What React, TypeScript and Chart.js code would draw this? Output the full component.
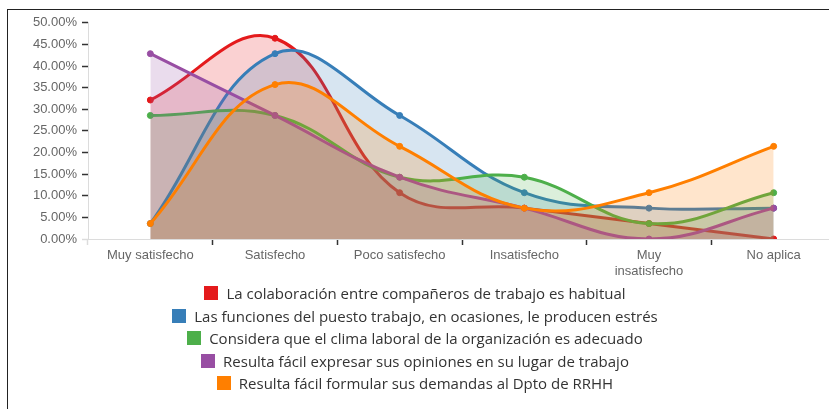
import React, { useEffect, useRef } from "react";
import { Chart, registerables } from "chart.js";

Chart.register(...registerables);

const categories: (string | string[])[] = [
  "Muy satisfecho",
  "Satisfecho",
  "Poco satisfecho",
  "Insatisfecho",
  ["Muy", "insatisfecho"],
  "No aplica",
];

const seriesNames = [
  "La colaboración entre compañeros de trabajo es habitual",
  "Las funciones del puesto trabajo, en ocasiones, le producen estrés",
  "Considera que el clima laboral de la organización es adecuado",
  "Resulta fácil expresar sus opiniones en su lugar de trabajo",
  "Resulta fácil formular sus demandas al Dpto de RRHH",
];

const colaboracion = [32.14, 46.43, 10.71, 7.14, 3.57, 0];
const funciones = [3.57, 42.86, 28.57, 10.71, 7.14, 7.14];
const clima = [28.57, 28.57, 14.29, 14.29, 3.57, 10.71];
const opiniones = [42.86, 28.57, 14.29, 7.14, 0, 7.14];
const demandas = [3.57, 35.71, 21.43, 7.14, 10.71, 21.43];

const seriesValues = [colaboracion, funciones, clima, opiniones, demandas];
const seriesColors = ["#e41a1c", "#377eb8", "#4daf4a", "#984ea3", "#ff7f00"];

const yMin = 0;
const yMax = 50;
const yStep = 5;

function hexToRgba(hex: string, a: number) {
  const n = parseInt(hex.slice(1), 16);
  return `rgba(${(n >> 16) & 255},${(n >> 8) & 255},${n & 255},${a})`;
}

const FONT = "'Liberation Sans', Arial, sans-serif";
const LEGEND_FONT = "'Open Sans', sans-serif";

export default function App() {
  const ref = useRef<HTMLCanvasElement | null>(null);

  useEffect(() => {
    if (!ref.current) return;
    const chart = new Chart(ref.current, {
      type: "line",
      data: {
        labels: categories as any,
        datasets: seriesValues.map((vals, i) => ({
          label: seriesNames[i],
          data: vals,
          order: seriesValues.length - 1 - i,
          borderColor: seriesColors[i],
          backgroundColor: hexToRgba(seriesColors[i], 0.2),
          pointBackgroundColor: seriesColors[i],
          pointBorderColor: seriesColors[i],
          pointRadius: 3,
          pointBorderWidth: 1,
          borderWidth: 3,
          tension: 0.4,
          fill: "origin",
        })),
      },
      options: {
        responsive: false,
        animation: false,
        devicePixelRatio: 1,
        layout: { padding: { left: 0, right: 0, top: 9, bottom: 0 } },
        plugins: {
          legend: { display: false },
          tooltip: { enabled: false },
        },
        scales: {
          x: {
            type: "category",
            offset: true,
            grid: {
              offset: true,
              drawOnChartArea: false,
              drawTicks: true,
              tickLength: 6,
              tickWidth: 1.5,
              tickColor: (ctx: any) => (ctx.index === 0 ? "#dcdcdc" : "#333"),
            },
            border: { color: "#dcdcdc", width: 1 },
            ticks: {
              autoSkip: false,
              maxRotation: 0,
              minRotation: 0,
              padding: 3,
              color: "#666",
              font: { family: FONT, size: 13 },
            },
            afterFit: (scale: any) => {
              scale.height = 51;
            },
          },
          y: {
            min: yMin,
            max: yMax,
            grid: {
              drawOnChartArea: false,
              drawTicks: true,
              tickLength: 6,
              tickWidth: 1.5,
              tickColor: (ctx: any) => (ctx.index === 0 ? "#dcdcdc" : "#333"),
            },
            border: { color: "#dcdcdc", width: 1 },
            ticks: {
              stepSize: yStep,
              padding: 5,
              color: "#666",
              font: { family: FONT, size: 13 },
              callback: (v: any) => Number(v).toFixed(2) + "%",
            },
            afterFit: (scale: any) => {
              scale.width = 80;
            },
          },
        },
      },
    });
    return () => chart.destroy();
  }, []);

  return (
    <div
      style={{
        position: "absolute",
        left: 7,
        top: 9,
        width: 821,
        height: 399,
        borderLeft: "1px solid #222",
        borderTop: "1px solid #222",
        overflow: "hidden",
        background: "#fff",
      }}
    >
      <canvas
        ref={ref}
        width={833}
        height={280}
        style={{ position: "absolute", left: 0, top: 0, width: 833, height: 280 }}
      />
      <div
        style={{
          position: "absolute",
          left: 0,
          top: 272,
          width: 814,
          display: "flex",
          flexDirection: "column",
          alignItems: "center",
          fontFamily: LEGEND_FONT,
          fontSize: 15,
          color: "#333",
        }}
      >
        {seriesNames.map((name, i) => (
          <div
            key={name}
            style={{ display: "flex", alignItems: "center", height: 22.5, whiteSpace: "nowrap" }}
          >
            <span
              style={{
                display: "inline-block",
                width: 14,
                height: 14,
                background: seriesColors[i],
                marginRight: 8,
              }}
            />
            <span>{name}</span>
          </div>
        ))}
      </div>
    </div>
  );
}
